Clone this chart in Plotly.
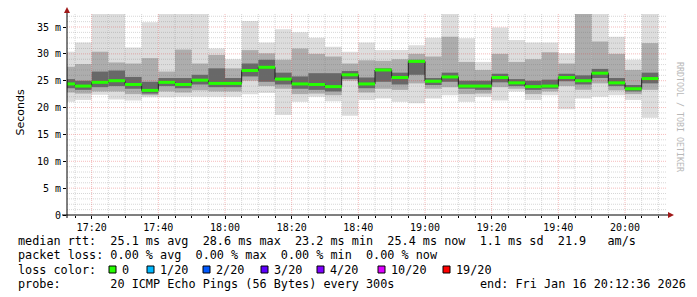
import plotly.graph_objects as go
import pandas as pd

# ---------------- data (ms) ----------------
bar_start = pd.date_range("2026-01-16 17:10", periods=36, freq="5min")

median = [24.4, 24.0, 24.7, 25.0, 24.3, 23.2, 24.7, 24.3, 25.1, 24.5, 24.5, 26.9,
          27.5, 25.3, 24.4, 24.3, 23.9, 26.1, 24.4, 27.0, 25.6, 28.6, 24.9, 25.7,
          24.0, 24.0, 25.6, 24.6, 23.9, 24.0, 25.6, 25.0, 26.4, 24.6, 23.5, 25.4]
ping_max = [30.4, 32.1, 37.5, 37.5, 31.2, 35.9, 37.5, 37.5, 37.5, 31.0, 29.0, 36.1,
            32.1, 34.6, 34.0, 33.0, 31.3, 30.4, 32.1, 30.7, 30.7, 31.6, 33.0, 37.5,
            32.9, 28.5, 34.9, 32.6, 32.1, 32.1, 30.1, 37.5, 37.5, 33.2, 28.9, 37.5]
ping_min = [21.1, 21.4, 22.4, 21.5, 21.3, 21.9, 21.9, 22.0, 22.0, 22.0, 22.0, 22.5,
            22.7, 18.6, 21.1, 22.0, 21.2, 18.5, 21.4, 21.7, 21.1, 20.8, 21.7, 22.3,
            21.1, 22.0, 21.3, 23.0, 21.4, 22.3, 19.7, 21.7, 22.0, 22.3, 21.4, 18.1]
mid_hi = [27.6, 28.1, 30.4, 28.4, 28.2, 29.2, 26.7, 30.8, 28.2, 29.8, 27.3, 30.7,
          30.1, 28.9, 31.0, 30.0, 29.5, 28.2, 28.8, 28.7, 29.0, 30.0, 29.5, 33.2,
          28.5, 27.0, 30.0, 28.5, 29.0, 30.3, 28.2, 37.5, 32.3, 30.0, 27.0, 32.0]
mid_lo = [22.8, 22.6, 23.0, 23.0, 22.5, 22.3, 23.0, 22.8, 23.2, 23.0, 23.0, 25.0,
          24.0, 23.5, 22.5, 22.6, 22.3, 25.0, 22.8, 23.5, 23.3, 24.5, 23.5, 23.8,
          22.5, 22.6, 23.8, 23.5, 22.5, 23.0, 24.0, 23.3, 24.5, 23.2, 22.5, 23.3]
dark_hi = [25.3, 25.0, 26.7, 26.9, 25.7, 24.8, 25.5, 25.5, 26.1, 27.3, 25.5, 28.2,
           28.9, 26.5, 25.8, 26.4, 26.4, 26.8, 25.6, 27.3, 26.5, 28.9, 25.5, 26.5,
           25.0, 25.0, 26.3, 25.3, 25.0, 25.2, 26.3, 26.0, 27.2, 25.5, 24.2, 26.5]
dark_lo = [23.6, 23.3, 23.8, 24.0, 23.5, 22.6, 24.0, 23.6, 24.3, 23.8, 23.8, 25.8,
           24.8, 24.3, 23.5, 23.3, 23.0, 25.3, 23.6, 24.8, 24.3, 26.1, 24.2, 24.8,
           23.5, 23.3, 24.7, 24.0, 23.3, 23.5, 24.9, 24.3, 25.5, 24.0, 23.0, 24.5]

y_tick_vals = [0, 5, 10, 15, 20, 25, 30, 35]
y_tick_text = ["0", "5 m", "10 m", "15 m", "20 m", "25 m", "30 m", "35 m"]

loss_labels = ["0", "1/20", "2/20", "3/20", "4/20", "10/20", "19/20"]
loss_colors = ["#26ff00", "#00b8ff", "#0059ff", "#5e00ff", "#7e00ff", "#dd00ff", "#ff0000"]

legend_line1 = "median rtt:  25.1 ms avg  28.6 ms max  23.2 ms min  25.4 ms now  1.1 ms sd  21.9   am/s"
legend_line2 = "packet loss: 0.00 % avg  0.00 % max  0.00 % min  0.00 % now"
legend_line3 = "loss color:"
legend_line4 = "probe:       20 ICMP Echo Pings (56 Bytes) every 300s"
legend_end = "end: Fri Jan 16 20:12:36 2026"

# ---------------- layout geometry ----------------
W, H = 697, 297
L, R, T, B = 67, 30, 14, 82
PW, PH = W - L - R, H - T - B
x_range = [pd.Timestamp("2026-01-16 17:12:36"), pd.Timestamp("2026-01-16 20:12:36")]
y_range = [0, 37.42]

def px(xp):
    return (xp - L) / PW

def py(yp):
    return (H - B - yp) / PH

step = pd.Timedelta(minutes=5)
centers = bar_start + step / 2
bar_w = step.total_seconds() * 1000

fig = go.Figure()

def smoke(lo, hi, color):
    fig.add_trace(go.Bar(x=centers, y=[h - l for l, h in zip(lo, hi)], base=lo,
                         width=bar_w, marker=dict(color=color, line=dict(width=0)),
                         hoverinfo="skip", showlegend=False))

smoke(ping_min, ping_max, "#dddddd")
smoke(mid_lo, mid_hi, "#adadad")
smoke(dark_lo, dark_hi, "#686868")

# grid lines drawn above the smoke (as in rrdtool)
def hlines(vals):
    xs, ys = [], []
    for v in vals:
        xs += [x_range[0], x_range[1], None]
        ys += [v, v, None]
    return xs, ys

def vlines(vals):
    xs, ys = [], []
    for v in vals:
        xs += [v, v, None]
        ys += [y_range[0], y_range[1], None]
    return xs, ys

minor_y = [v for v in range(1, 38) if v % 5]
major_y = [v for v in range(5, 38, 5)]
grid_t = pd.date_range("2026-01-16 17:15", "2026-01-16 20:10", freq="5min")
minor_x = [t for t in grid_t if t.minute % 20]
major_x = [t for t in grid_t if t.minute % 20 == 0]

grid_minor = "rgba(110,110,110,0.28)"
grid_major = "rgba(225,50,50,0.33)"
for xs, ys, col in [(*hlines(minor_y), grid_minor), (*vlines(minor_x), grid_minor),
                    (*hlines(major_y), grid_major), (*vlines(major_x), grid_major)]:
    fig.add_trace(go.Scatter(x=xs, y=ys, mode="lines",
                             line=dict(color=col, width=1, dash="1px,1px"),
                             hoverinfo="skip", showlegend=False))

# median: thin dark step line + thick green segments
step_x = list(bar_start) + [bar_start[-1] + step]
step_y = median + [median[-1]]
fig.add_trace(go.Scatter(x=step_x, y=step_y, mode="lines", line_shape="hv",
                         line=dict(color="#202020", width=1),
                         hoverinfo="skip", showlegend=False))
gx, gy = [], []
for t, m in zip(bar_start, median):
    gx += [t, t + step, None]
    gy += [m, m, None]
fig.add_trace(go.Scatter(x=gx, y=gy, mode="lines", line=dict(color=loss_colors[0], width=3),
                         hoverinfo="skip", showlegend=False))

mono = "DejaVu Sans Mono"

shapes = [
    dict(type="line", xref="paper", yref="paper", x0=px(62), x1=px(670), y0=0, y1=0,
         line=dict(color="#000000", width=1), layer="above"),
    dict(type="line", xref="paper", yref="paper", x0=0, x1=0, y0=py(218), y1=py(10),
         line=dict(color="#000000", width=1), layer="above"),
    dict(type="path", xref="paper", yref="paper", fillcolor="#a01818", line=dict(width=0),
         path=f"M {px(668)} {py(212)} L {px(674)} {py(215)} L {px(668)} {py(218)} Z"),
    dict(type="path", xref="paper", yref="paper", fillcolor="#a01818", line=dict(width=0),
         path=f"M {px(64)} {py(13)} L {px(67)} {py(7)} L {px(70)} {py(13)} Z"),
]

nb = lambda s: s.replace(" ", "\u00a0")
annotations = [
    dict(text="Seconds", x=px(11), y=py(113), xref="paper", yref="paper", textangle=-90,
         showarrow=False, font=dict(family="DejaVu Sans", size=11, color="#000")),
    dict(text=nb("RRDTOOL / TOBI OETIKER"), x=px(687), y=py(60), xref="paper", yref="paper",
         textangle=90, showarrow=False, font=dict(family=mono, size=8.3, color="#b8b8b8")),
]
line_y = [241, 255.3, 269.5, 283.5]
for txt, yy in [(legend_line1, line_y[0]), (legend_line2, line_y[1]),
                (legend_line3, line_y[2]), (legend_line4, line_y[3])]:
    annotations.append(dict(text=nb(txt), x=px(16), y=py(yy), xref="paper", yref="paper",
                            xanchor="left", yanchor="middle", showarrow=False,
                            font=dict(family=mono, size=11.8, color="#000")))
annotations.append(dict(text=nb(legend_end), x=px(478), y=py(line_y[3]), xref="paper", yref="paper",
                        xanchor="left", yanchor="middle", showarrow=False,
                        font=dict(family=mono, size=11.8, color="#000")))

swatch_x = [109, 147, 203, 261, 317, 378, 443]
for sx, lab, col in zip(swatch_x, loss_labels, loss_colors):
    shapes.append(dict(type="rect", xref="paper", yref="paper", x0=px(sx), x1=px(sx + 7),
                       y0=py(273), y1=py(266), fillcolor=col,
                       line=dict(color="#000000", width=1)))
    annotations.append(dict(text=nb(lab), x=px(sx + 11), y=py(line_y[2]), xref="paper", yref="paper",
                            xanchor="left", yanchor="middle", showarrow=False,
                            font=dict(family=mono, size=11.8, color="#000")))

fig.update_layout(
    width=W, height=H, autosize=False,
    margin=dict(l=L, r=R, t=T, b=B, pad=0),
    paper_bgcolor="#ffffff", plot_bgcolor="#ffffff",
    barmode="overlay", showlegend=False,
    shapes=shapes, annotations=annotations,
    xaxis=dict(type="date", range=x_range, showgrid=False, zeroline=False, showline=False,
               tickformat="%H:%M", tick0="2026-01-16 17:00", dtick=20 * 60 * 1000,
               ticks="outside", ticklen=3, tickcolor="#000",
               minor=dict(dtick=5 * 60 * 1000, ticks="outside", ticklen=2, tickcolor="#000"),
               tickfont=dict(family=mono, size=10, color="#000")),
    yaxis=dict(range=y_range, showgrid=False, zeroline=False, showline=False,
               tickvals=y_tick_vals, ticktext=y_tick_text, ticks="outside", ticklen=3,
               tickcolor="#000", tickfont=dict(family=mono, size=10, color="#000")),
)

fig.write_html("out.html")
